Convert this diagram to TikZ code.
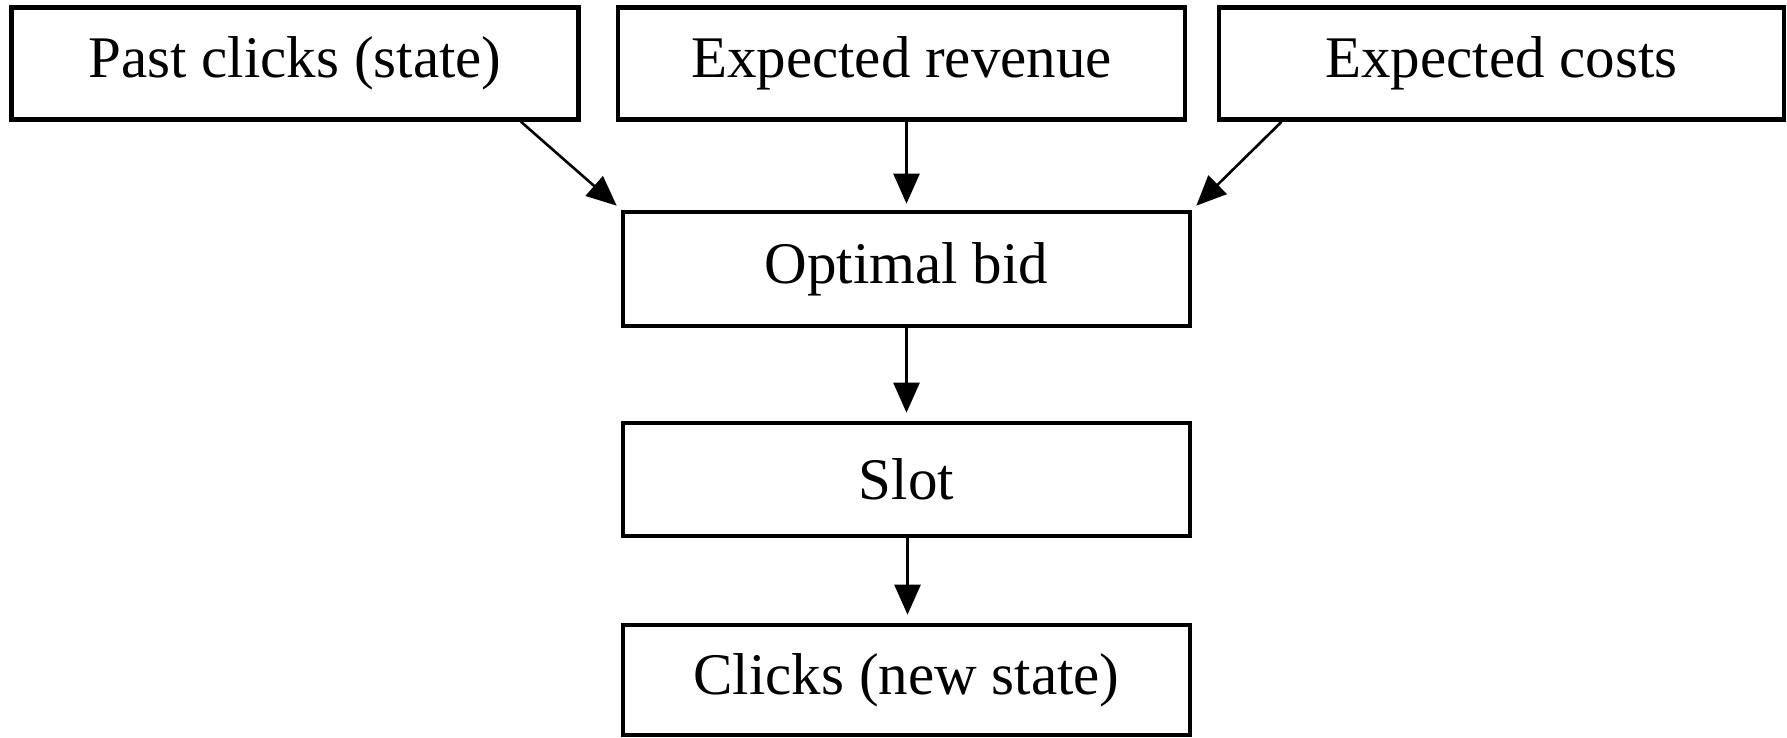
\documentclass[tikz,border=0pt]{standalone}
\usepackage{fontspec}
\setmainfont{Liberation Serif}
\usetikzlibrary{arrows.meta}
\begin{document}
\begin{tikzpicture}[x=1pt,y=1pt,
  box/.style={draw, line width=4.6pt, minimum width=567pt, minimum height=112pt,
    inner sep=0pt, font=\fontsize{59}{70}\selectfont},
  flow/.style={line width=2.6pt, -{Triangle[length=30pt,width=26pt]}}]
  \useasboundingbox (0,0) rectangle (1787,737);
  % top row of inputs
  \node[box] (past) at (295,673.5) {Past clicks (state)};
  \node[box] (rev)  at (901.5,673.5) {Expected revenue};
  \node[box, minimum width=565pt] (cost) at (1501.5,673.5) {Expected costs};
  % decision chain
  \node[box, minimum height=114pt] (bid) at (906.5,468) {Optimal bid};
  \node[box, minimum height=113pt] (slot) at (906.5,257.5) {Slot};
  \node[box, minimum height=110pt] (clk) at (906.5,57) {Clicks (new state)};
  % connectors
  \draw[flow] ([xshift=226pt]past.south) -- ([shift={(-4pt,4pt)}]bid.north west);
  \draw[flow] ([xshift=5pt]rev.south) -- ([shift={(0pt,6pt)}]bid.north);
  \draw[flow] ([xshift=-220pt]cost.south) -- ([shift={(4pt,4pt)}]bid.north east);
  \draw[flow] (bid.south) -- ([yshift=8pt]slot.north);
  \draw[flow] ([xshift=1pt]slot.south) -- ([shift={(1pt,8pt)}]clk.north);
\end{tikzpicture}
\end{document}
